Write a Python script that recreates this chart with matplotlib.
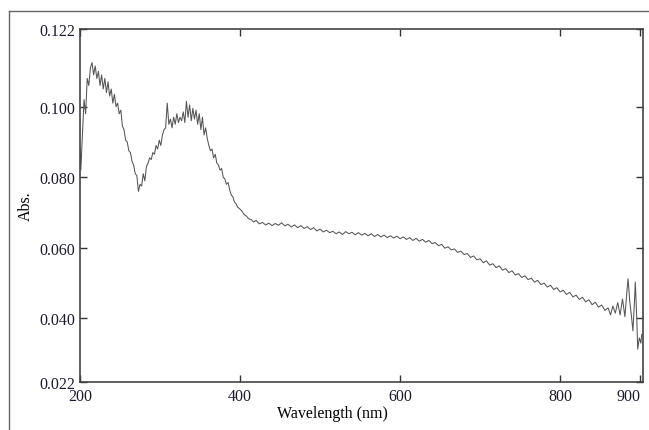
import matplotlib.pyplot as plt
from matplotlib.lines import Line2D

plt.rcParams['font.family'] = ['Liberation Serif', 'DejaVu Serif']

# wavelength (nm) and absorbance
wl = [200, 201, 203, 205, 207, 209, 211, 213, 215, 217, 219, 221, 223, 225, 227, 229,
      231, 233, 235, 237, 239, 241, 243, 245, 247, 249, 251, 253, 255, 257, 259, 261,
      263, 265, 267, 269, 271, 273, 275, 277, 279, 281, 283, 285, 287, 289, 291, 293,
      295, 297, 299, 301, 303, 305, 307, 309, 311, 313, 315, 317, 319, 321, 323, 325,
      327, 329, 331, 333, 335, 337, 339, 341, 343, 345, 347, 349, 351, 353, 355, 357,
      359, 361, 363, 365, 367, 369, 371, 373, 375, 377, 379, 381, 383, 385, 387, 389,
      391, 393, 395, 397, 399, 402, 405, 408, 411, 414, 417, 420, 424, 428, 432, 436,
      440, 444, 448, 452, 456, 460, 464, 468, 472, 476, 480, 484, 488, 492, 496, 500,
      504, 508, 512, 516, 520, 524, 528, 532, 536, 540, 544, 548, 552, 556, 560, 564,
      568, 572, 576, 580, 584, 588, 592, 596, 600, 604, 608, 612, 616, 620, 624, 628,
      632, 636, 640, 644, 648, 652, 656, 660, 664, 668, 672, 676, 680, 684, 688, 692,
      696, 700, 704, 708, 712, 716, 720, 724, 728, 732, 736, 740, 744, 748, 752, 756,
      760, 764, 768, 772, 776, 780, 784, 788, 792, 796, 800, 804, 808, 812, 816, 820,
      824, 828, 832, 836, 840, 844, 848, 852, 856, 860, 863, 866, 869, 872, 875, 878,
      881, 884, 885, 887, 889, 891, 893, 894, 896, 897, 899, 901, 902]
absb = [0.088, 0.082, 0.092, 0.102, 0.098, 0.108, 0.106, 0.111, 0.1125, 0.109, 0.1115,
        0.108, 0.110, 0.106, 0.109, 0.105, 0.108, 0.104, 0.107, 0.103, 0.105, 0.101,
        0.1035, 0.100, 0.101, 0.098, 0.099, 0.0945, 0.0935, 0.0905, 0.0900, 0.0875, 0.0870,
        0.0845, 0.0835, 0.0810, 0.0805, 0.076, 0.078, 0.0775, 0.081, 0.079, 0.083, 0.084,
        0.0855, 0.085, 0.087, 0.0865, 0.089, 0.088, 0.0905, 0.089, 0.092, 0.0935, 0.094,
        0.101, 0.095, 0.0965, 0.094, 0.097, 0.095, 0.098, 0.0955, 0.097, 0.096, 0.0985,
        0.0955, 0.1015, 0.097, 0.1005, 0.096, 0.0995, 0.0965, 0.099, 0.095, 0.098,
        0.0935, 0.097, 0.092, 0.094, 0.091, 0.089, 0.0875, 0.088, 0.0855, 0.0865, 0.084,
        0.0835, 0.082, 0.0825, 0.080, 0.0795, 0.078, 0.0785, 0.0765, 0.075, 0.0745,
        0.073, 0.0725, 0.0715, 0.0712, 0.0705, 0.0695, 0.069, 0.0682, 0.068, 0.0673,
        0.0678, 0.0668, 0.0672, 0.0665, 0.067, 0.0663, 0.0669, 0.0664, 0.0671, 0.0662,
        0.0667, 0.0659, 0.0665, 0.0657, 0.0663, 0.0655, 0.066, 0.0652, 0.0657, 0.0648,
        0.0653, 0.0645, 0.065, 0.0643, 0.0647, 0.064, 0.0645, 0.0638, 0.0646, 0.064,
        0.0644, 0.0637, 0.0643, 0.0636, 0.0641, 0.0634, 0.064, 0.0632, 0.0638, 0.0631,
        0.0636, 0.0629, 0.0634, 0.0628, 0.0633, 0.0626, 0.0631, 0.0624, 0.0629, 0.0621,
        0.0627, 0.0619, 0.0624, 0.0616, 0.0621, 0.0612, 0.0615, 0.0606, 0.061, 0.0599,
        0.0603, 0.0594, 0.0597, 0.0587, 0.0591, 0.0581, 0.0584, 0.0573, 0.0577, 0.0566,
        0.0569, 0.0558, 0.0563, 0.0551, 0.0555, 0.0544, 0.0549, 0.0537, 0.0541, 0.053,
        0.0535, 0.0523, 0.0527, 0.0516, 0.0521, 0.051, 0.0514, 0.0503, 0.0508, 0.0496,
        0.05, 0.0489, 0.0494, 0.0482, 0.0487, 0.0475, 0.048, 0.0468, 0.0474, 0.0461,
        0.0466, 0.0454, 0.046, 0.0447, 0.0453, 0.0439, 0.0446, 0.0432, 0.0438, 0.0423,
        0.043, 0.041, 0.0435, 0.0415, 0.0445, 0.041, 0.0455, 0.0405, 0.049, 0.0512,
        0.045, 0.041, 0.0365, 0.045, 0.0503, 0.039, 0.0313, 0.0345, 0.033, 0.0355]

xticks = [200, 400, 600, 800, 900]
yticks = [0.022, 0.040, 0.060, 0.080, 0.100, 0.122]

fig = plt.figure(figsize=(6.49, 4.31), dpi=100)
ax = fig.add_axes([0.1233, 0.1114, 0.8667, 0.819])

ax.plot(wl, absb, color='#555555', lw=0.75)

ax.set_xlim(200, 903)
ax.set_ylim(0.022, 0.122)
ax.set_xticks(xticks)
ax.set_yticks(yticks)
ax.set_yticklabels(['%.3f' % v for v in yticks])
ax.tick_params(direction='in', length=5, width=1, top=True, right=True,
               labelsize=11.5, colors='#333333', labelcolor='#1a1a2e')
ax.tick_params(axis='x', pad=4)
# last x label sits left of its tick, inside the figure
ax.get_xticklabels()[-1].set_horizontalalignment('right')
ax.get_xticklabels()[-1].set_x(903)
for s in ax.spines.values():
    s.set_color('#444444')
    s.set_linewidth(1.2)

ax.set_xlabel('Wavelength (nm)', fontsize=11.5)
ax.xaxis.set_label_coords(0.448, -0.065)
ax.set_ylabel('Abs.', fontsize=11.5)
ax.yaxis.set_label_coords(-0.082, 0.5)

# outer frame around the figure
fig.add_artist(Line2D([9 / 649, 1.0], [1 - 12 / 431, 1 - 12 / 431],
                      transform=fig.transFigure, color='#666666', lw=1))
fig.add_artist(Line2D([9 / 649, 9 / 649], [0.0, 1 - 12 / 431],
                      transform=fig.transFigure, color='#666666', lw=1))

fig.savefig('out.png', dpi=100)
